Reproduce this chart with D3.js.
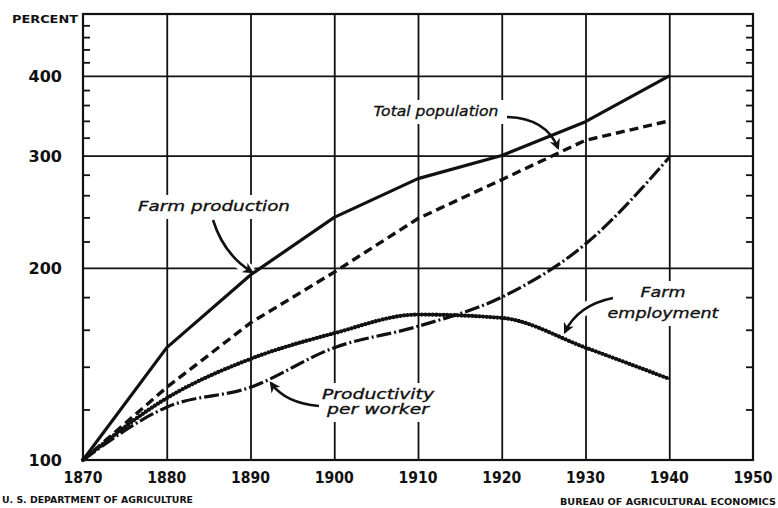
<!DOCTYPE html>
<html>
<head>
<meta charset="utf-8">
<script src="https://cdnjs.cloudflare.com/ajax/libs/d3/7.8.5/d3.min.js"></script>
<style>
    body { margin: 0; background: #ffffff; }
    svg { display: block; }
    .ticklabel { font-family: "DejaVu Sans", sans-serif; font-weight: bold; fill: #111; }
    .curvelabel { font-family: "DejaVu Sans", sans-serif; font-style: italic; fill: #111; stroke: #111; stroke-width: 0.35; }
    .footer { font-family: "DejaVu Sans", sans-serif; font-weight: bold; fill: #111; }
</style>
</head>
<body>
<script>

// Index values (1870 = 100)
var years = [1870, 1880, 1890, 1900, 1910, 1920, 1930, 1940];
var farmProduction = [100, 150, 195, 240, 276, 300, 339, 400];
var totalPopulation = [100, 130, 164, 197, 239, 275, 317, 340];
var farmEmployment = [100, 125, 144, 158, 169, 167, 150, 134];
var productivityPerWorker = [100, 121, 130, 150, 162, 180, 218, 298];

// Axis ticks
var xTicks = [1870, 1880, 1890, 1900, 1910, 1920, 1930, 1940, 1950];
var yLabels = [100, 200, 300, 400];
var yGrid = [200, 300, 400];
var yMinorTicks = [120, 140, 160, 180, 220, 240, 260, 280, 320, 340, 360, 380, 420, 440, 460, 480];


window.onload = function() {
    drawChart();
};


/*
 * Draws the log scale line chart
 */

function drawChart() {

    var svgWidth = 778;
    var svgHeight = 508;

    // Plot box
    var left = 83;
    var right = 753;
    var top = 14;
    var bottom = 460;

    const svg = d3.select("body").append("svg")
        .attr("width", svgWidth)
        .attr("height", svgHeight);

    // Scaling functions
    const xScale = d3.scaleLinear()
        .domain([1870, 1950])
        .range([left, right]);

    const yScale = d3.scaleLog()
        .domain([100, 500])
        .range([bottom, top]);

    // Arrow head marker
    svg.append("defs").append("marker")
        .attr("id", "arrow")
        .attr("viewBox", "0 0 10 10")
        .attr("refX", 8)
        .attr("refY", 5)
        .attr("markerWidth", 11)
        .attr("markerHeight", 11)
        .attr("markerUnits", "userSpaceOnUse")
        .attr("orient", "auto")
        .append("path")
        .attr("d", "M0,0 L10,5 L0,10 L3,5 Z")
        .attr("fill", "#111");

    // Vertical gridlines
    svg.append("g")
        .attr("transform", `translate(0, ${top})`)
        .call(d3.axisBottom(xScale)
            .tickValues(xTicks.slice(1, -1))
            .tickSize(bottom - top)
            .tickFormat(""))
        .call(g => g.select(".domain").remove())
        .selectAll("line")
        .attr("stroke", "#111")
        .attr("stroke-width", 1.8);

    // Horizontal gridlines
    svg.append("g")
        .attr("transform", `translate(${left}, 0)`)
        .call(d3.axisRight(yScale)
            .tickValues(yGrid)
            .tickSize(right - left)
            .tickFormat(""))
        .call(g => g.select(".domain").remove())
        .selectAll("line")
        .attr("stroke", "#111")
        .attr("stroke-width", 1.8);

    // Curve labels, position and width of each
    var labels = [
        {lines: ["Total population"], x: 436, y: [116], w: [125]},
        {lines: ["Farm production"], x: 214, y: [211], w: [152]},
        {lines: ["Farm", "employment"], x: 663, y: [297, 318], w: [45, 111]},
        {lines: ["Productivity", "per worker"], x: 378, y: [399, 414], w: [112, 102]}
    ];

    // Curved arrows from the labels to the curves
    var arrows = [
        "M213,220 Q224,255 252,272",
        "M507,117 Q546,118 558,148",
        "M319,406 Q285,403 271,383",
        "M613,298 Q578,305 565,332"
    ];

    // White patches behind the labels break the gridlines
    labels.forEach(function(label) {
        var maxWidth = d3.max(label.w);
        svg.append("rect")
            .attr("x", label.x - maxWidth / 2 - 6)
            .attr("y", label.y[0] - 16)
            .attr("width", maxWidth + 12)
            .attr("height", label.y[label.y.length - 1] - label.y[0] + 24)
            .attr("fill", "#ffffff");
    });

    // White halo under the arrows, also breaking the gridlines
    svg.selectAll(".halo")
        .data(arrows)
        .enter()
        .append("path")
        .attr("class", "halo")
        .attr("d", function(d) { return d; })
        .attr("fill", "none")
        .attr("stroke", "#ffffff")
        .attr("stroke-width", 12);

    var points = function(values) {
        return years.map(function(year, i) {
            return [year, values[i]];
        });
    };

    var line = d3.line()
        .x(function(d) { return xScale(d[0]); })
        .y(function(d) { return yScale(d[1]); });

    var smoothLine = d3.line()
        .x(function(d) { return xScale(d[0]); })
        .y(function(d) { return yScale(d[1]); })
        .curve(d3.curveMonotoneX);

    // Farm production, solid
    svg.append("path")
        .attr("d", line(points(farmProduction)))
        .attr("fill", "none")
        .attr("stroke", "#111")
        .attr("stroke-width", 3.2)
        .attr("stroke-linejoin", "round");

    // Total population, dashed
    svg.append("path")
        .attr("d", line(points(totalPopulation)))
        .attr("fill", "none")
        .attr("stroke", "#111")
        .attr("stroke-width", 3.4)
        .attr("stroke-dasharray", "9 5");

    // Productivity per worker, dash-dot
    svg.append("path")
        .attr("d", smoothLine(points(productivityPerWorker)))
        .attr("fill", "none")
        .attr("stroke", "#111")
        .attr("stroke-width", 3.2)
        .attr("stroke-dasharray", "15 3 2 3");

    // Farm employment, beaded line
    svg.append("path")
        .attr("d", smoothLine(points(farmEmployment)))
        .attr("fill", "none")
        .attr("stroke", "#111")
        .attr("stroke-width", 2);

    svg.append("path")
        .attr("d", smoothLine(points(farmEmployment)))
        .attr("fill", "none")
        .attr("stroke", "#111")
        .attr("stroke-width", 4.3)
        .attr("stroke-linecap", "round")
        .attr("stroke-dasharray", "0 3.6");

    svg.selectAll(".arrow")
        .data(arrows)
        .enter()
        .append("path")
        .attr("class", "arrow")
        .attr("d", function(d) { return d; })
        .attr("fill", "none")
        .attr("stroke", "#111")
        .attr("stroke-width", 2.6)
        .attr("marker-end", "url(#arrow)");

    // Draw the label texts
    labels.forEach(function(label) {
        label.lines.forEach(function(text, i) {
            svg.append("text")
                .attr("class", "curvelabel")
                .attr("x", label.x)
                .attr("y", label.y[i])
                .attr("text-anchor", "middle")
                .attr("font-size", 14.5)
                .attr("textLength", label.w[i])
                .attr("lengthAdjust", "spacingAndGlyphs")
                .text(text);
        });
    });

    // Plot border
    svg.append("rect")
        .attr("x", left)
        .attr("y", top)
        .attr("width", right - left)
        .attr("height", bottom - top)
        .attr("fill", "none")
        .attr("stroke", "#111")
        .attr("stroke-width", 2.2);

    // Minor ticks on the left side, pointing inward
    svg.append("g")
        .attr("transform", `translate(${left}, 0)`)
        .call(d3.axisRight(yScale)
            .tickValues(yMinorTicks)
            .tickSize(7)
            .tickFormat(""))
        .call(g => g.select(".domain").remove())
        .selectAll("line")
        .attr("stroke", "#111")
        .attr("stroke-width", 1.8);

    // Minor ticks on the right side, pointing inward
    svg.append("g")
        .attr("transform", `translate(${right}, 0)`)
        .call(d3.axisLeft(yScale)
            .tickValues(yMinorTicks)
            .tickSize(7)
            .tickFormat(""))
        .call(g => g.select(".domain").remove())
        .selectAll("line")
        .attr("stroke", "#111")
        .attr("stroke-width", 1.8);

    // Y tick labels
    svg.selectAll(".ylabel")
        .data(yLabels)
        .enter()
        .append("text")
        .attr("class", "ticklabel")
        .attr("x", 62)
        .attr("y", function(d) { return yScale(d) + 6; })
        .attr("text-anchor", "end")
        .attr("font-size", 16)
        .text(function(d) { return d; });

    // X tick labels
    svg.selectAll(".xlabel")
        .data(xTicks)
        .enter()
        .append("text")
        .attr("class", "ticklabel")
        .attr("x", function(d) { return xScale(d); })
        .attr("y", 483)
        .attr("text-anchor", "middle")
        .attr("font-size", 16)
        .attr("textLength", 39)
        .attr("lengthAdjust", "spacingAndGlyphs")
        .text(function(d) { return d; });

    // Axis title
    svg.append("text")
        .attr("class", "ticklabel")
        .attr("x", 12)
        .attr("y", 23)
        .attr("font-size", 11)
        .attr("textLength", 66)
        .attr("lengthAdjust", "spacingAndGlyphs")
        .text("PERCENT");

    // Source lines
    svg.append("text")
        .attr("class", "footer")
        .attr("x", 2)
        .attr("y", 503)
        .attr("font-size", 8)
        .attr("textLength", 191)
        .attr("lengthAdjust", "spacingAndGlyphs")
        .text("U. S. DEPARTMENT OF AGRICULTURE");

    svg.append("text")
        .attr("class", "footer")
        .attr("x", 560)
        .attr("y", 505)
        .attr("font-size", 8)
        .attr("textLength", 216)
        .attr("lengthAdjust", "spacingAndGlyphs")
        .text("BUREAU OF AGRICULTURAL ECONOMICS");
};

</script>
</body>
</html>
